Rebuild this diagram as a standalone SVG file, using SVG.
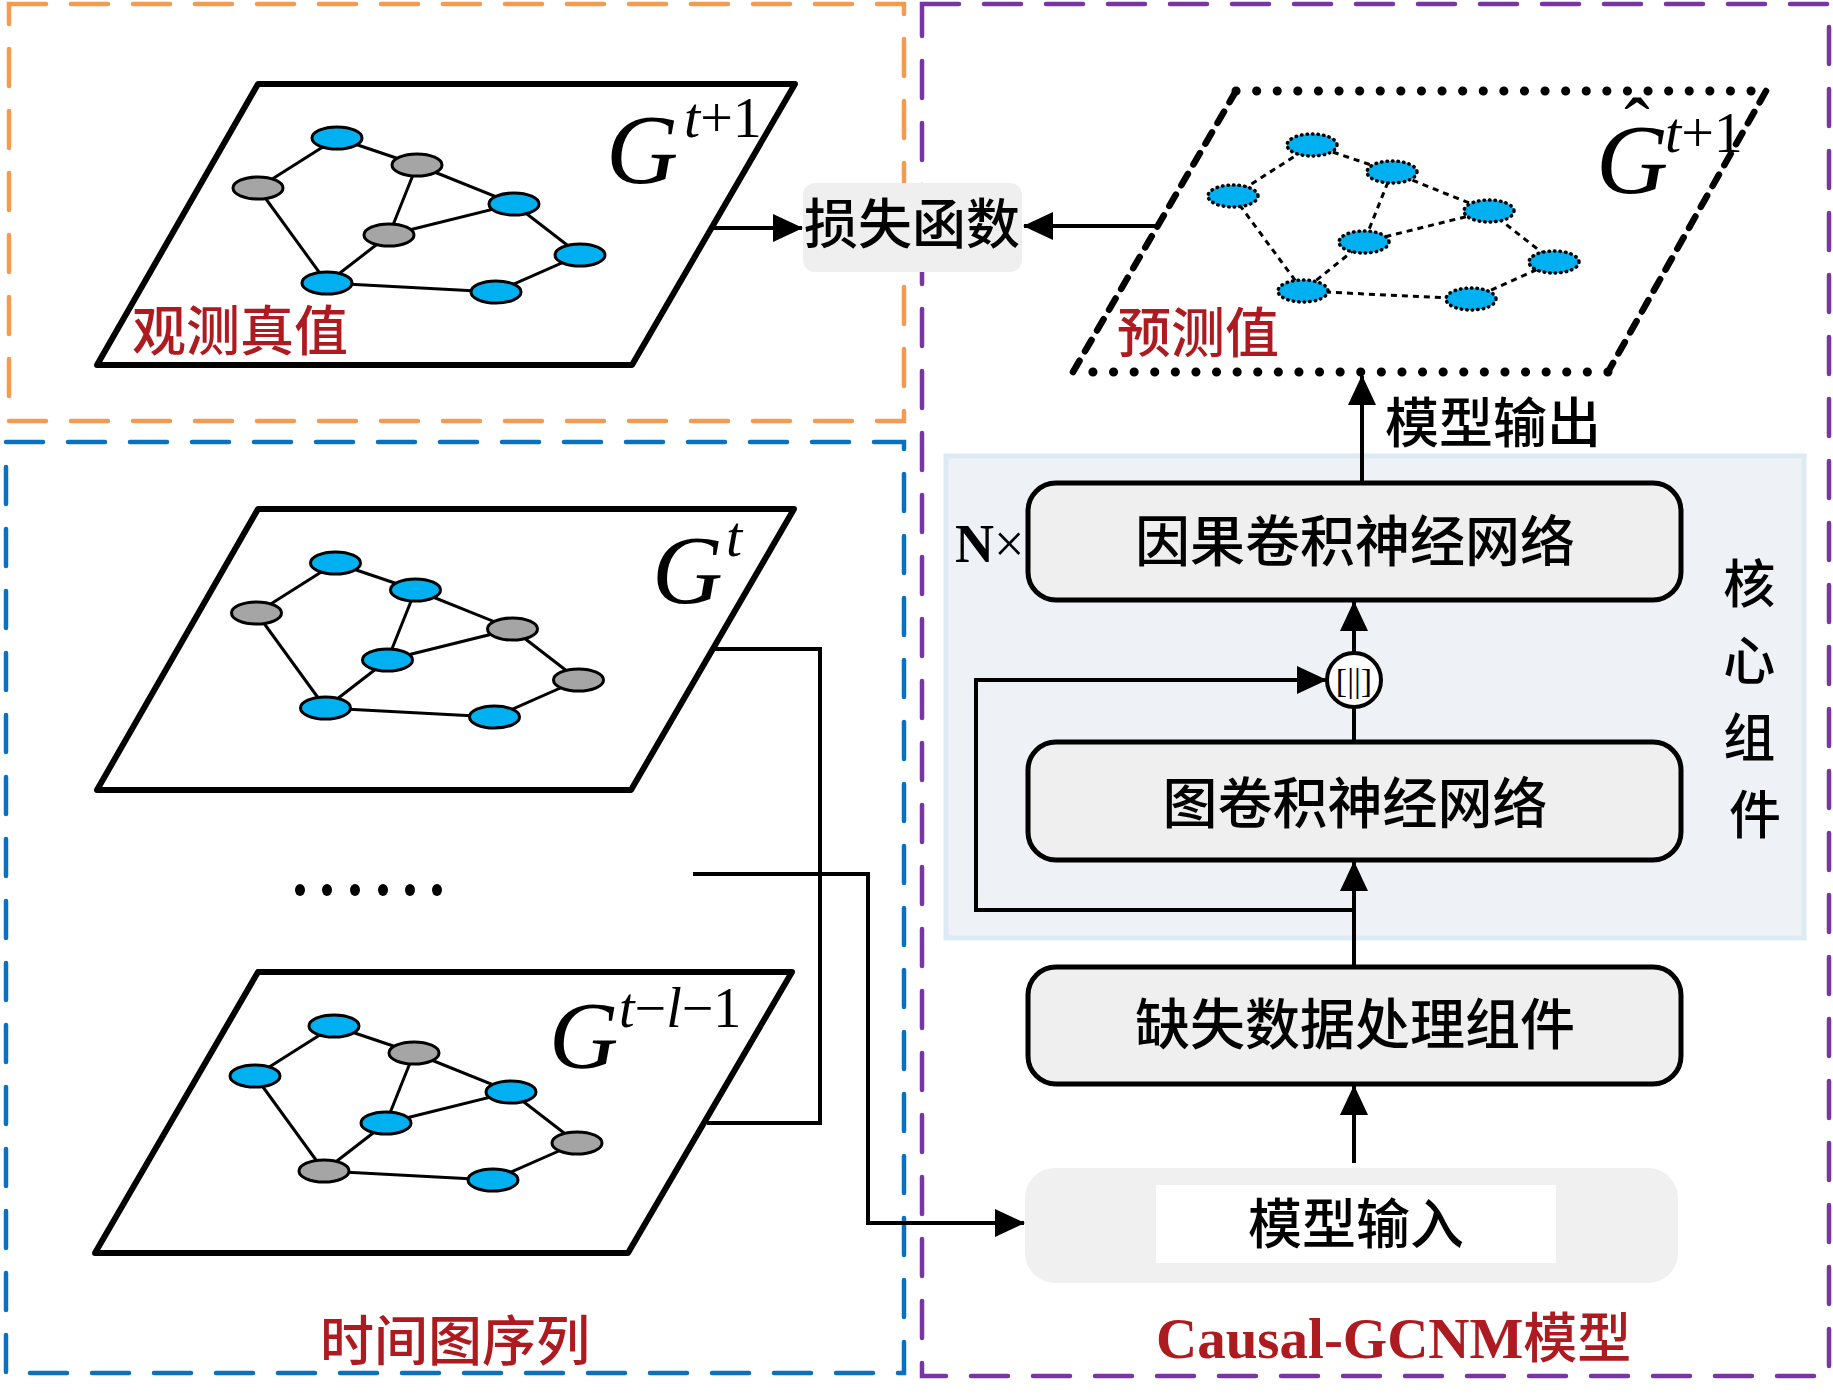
<svg xmlns="http://www.w3.org/2000/svg" width="1833" height="1396" viewBox="0 0 1833 1396">
<style>
.cjk{font-family:"Noto Sans CJK SC","Liberation Sans",sans-serif;font-weight:500;}
.red{fill:#AD1A1F;}
.math{font-family:"Liberation Serif","Times New Roman",serif;font-style:italic;}
.rm{font-family:"Liberation Serif","Times New Roman",serif;font-style:normal;}
.frame{fill:none;stroke-width:4.5;stroke-dasharray:37 25;stroke-linecap:round;}
.plane{fill:#FFFFFF;stroke:#000;stroke-width:6;stroke-linejoin:round;}
.edge{stroke:#000;stroke-width:3;}
.blue{fill:#00B0F0;stroke:#000;stroke-width:3;}
.gray{fill:#A5A5A5;stroke:#000;stroke-width:3;}
.pnode{fill:#00B0F0;stroke:#000;stroke-width:3.5;stroke-dasharray:0.5 5;stroke-linecap:round;}
.pedge{stroke:#000;stroke-width:3;stroke-dasharray:6 5;}
.box{fill:#EFEFEF;stroke:#000;stroke-width:5;}
.conn{fill:none;stroke:#000;stroke-width:4;}
</style>
<defs>
<marker id="ah" viewBox="0 0 30 28" refX="29" refY="14" markerWidth="30" markerHeight="28" orient="auto" markerUnits="userSpaceOnUse">
<path d="M0,0 L30,14 L0,28 z" fill="#000"/>
</marker>
<g id="edges-base">
<line x1="337" y1="138" x2="417" y2="165"/>
<line x1="337" y1="138" x2="258" y2="188"/>
<line x1="417" y1="165" x2="389" y2="235"/>
<line x1="417" y1="165" x2="514" y2="204"/>
<line x1="389" y1="235" x2="514" y2="204"/>
<line x1="514" y1="204" x2="580" y2="255"/>
<line x1="258" y1="188" x2="327" y2="283"/>
<line x1="389" y1="235" x2="327" y2="283"/>
<line x1="327" y1="283" x2="496" y2="292"/>
<line x1="496" y1="292" x2="580" y2="255"/>
</g>
</defs>
<rect width="1833" height="1396" fill="#FFFFFF"/>

<!-- frames -->
<g id="frames">
<rect class="frame" x="9" y="4" width="895" height="417" stroke="#F59B50"/>
<rect class="frame" x="6" y="442" width="898" height="931" stroke="#0A70C0"/>
<rect class="frame" x="922" y="4" width="907" height="1372" stroke="#7A35A5"/>
</g>

<!-- core component background -->
<g id="core">
<rect x="946" y="456" width="858" height="482" fill="#EEF1F6" stroke="#DCEBF3" stroke-width="5"/>
<text class="cjk" font-size="52" fill="#000" text-anchor="middle">
<tspan x="1755" y="603">核</tspan>
<tspan x="1755" y="680">心</tspan>
<tspan x="1755" y="757">组</tspan>
<tspan x="1755" y="834">件</tspan>
</text>
</g>

<!-- graph G^{t+1} -->
<g id="graph-gt1">
<polygon class="plane" points="258,84 795,84 632,365 97,365"/>
<g class="edge"><use href="#edges-base"/></g>
<ellipse class="blue" cx="337" cy="138" rx="25" ry="11"/>
<ellipse class="gray" cx="417" cy="165" rx="25" ry="11"/>
<ellipse class="gray" cx="258" cy="188" rx="25" ry="11"/>
<ellipse class="blue" cx="514" cy="204" rx="25" ry="11"/>
<ellipse class="gray" cx="389" cy="235" rx="25" ry="11"/>
<ellipse class="blue" cx="580" cy="255" rx="25" ry="11"/>
<ellipse class="blue" cx="327" cy="283" rx="25" ry="11"/>
<ellipse class="blue" cx="496" cy="292" rx="25" ry="11"/>
<text class="math" x="606" y="183" font-size="100">G</text>
<text x="684" y="137" font-size="58"><tspan class="math">t</tspan><tspan class="rm">+1</tspan></text>
<text class="cjk red" x="132" y="351" font-size="54">观测真值</text>
</g>

<!-- graph G^t -->
<g id="graph-gt">
<polygon class="plane" points="258,509 794,509 631,790 97,790"/>
<g transform="translate(-1.5,425)">
<g class="edge"><use href="#edges-base"/></g>
<ellipse class="blue" cx="337" cy="138" rx="25" ry="11"/>
<ellipse class="blue" cx="417" cy="165" rx="25" ry="11"/>
<ellipse class="gray" cx="258" cy="188" rx="25" ry="11"/>
<ellipse class="gray" cx="514" cy="204" rx="25" ry="11"/>
<ellipse class="blue" cx="389" cy="235" rx="25" ry="11"/>
<ellipse class="gray" cx="580" cy="255" rx="25" ry="11"/>
<ellipse class="blue" cx="327" cy="283" rx="25" ry="11"/>
<ellipse class="blue" cx="496" cy="292" rx="25" ry="11"/>
</g>
<text class="math" x="652" y="603" font-size="98">G</text>
<text class="math" x="726" y="556" font-size="58">t</text>
</g>

<!-- dots -->
<g id="ellipsis" fill="#000">
<ellipse cx="300" cy="890" rx="5" ry="6"/>
<ellipse cx="327" cy="890" rx="5" ry="6"/>
<ellipse cx="355" cy="890" rx="5" ry="6"/>
<ellipse cx="383" cy="890" rx="5" ry="6"/>
<ellipse cx="410" cy="890" rx="5" ry="6"/>
<ellipse cx="437" cy="890" rx="5" ry="6"/>
</g>

<!-- graph G^{t-l-1} -->
<g id="graph-gtl1">
<polygon class="plane" points="258,972 792,972 628,1253 95,1253"/>
<g transform="translate(-3,888)">
<g class="edge"><use href="#edges-base"/></g>
<ellipse class="blue" cx="337" cy="138" rx="25" ry="11"/>
<ellipse class="gray" cx="417" cy="165" rx="25" ry="11"/>
<ellipse class="blue" cx="258" cy="188" rx="25" ry="11"/>
<ellipse class="blue" cx="514" cy="204" rx="25" ry="11"/>
<ellipse class="blue" cx="389" cy="235" rx="25" ry="11"/>
<ellipse class="gray" cx="580" cy="255" rx="25" ry="11"/>
<ellipse class="gray" cx="327" cy="283" rx="25" ry="11"/>
<ellipse class="blue" cx="496" cy="292" rx="25" ry="11"/>
</g>
<text class="math" x="549" y="1068" font-size="96">G</text>
<text x="619" y="1027" font-size="56"><tspan class="math">t</tspan><tspan class="rm">−</tspan><tspan class="math">l</tspan><tspan class="rm">−1</tspan></text>
</g>

<text id="label-seq" class="cjk red" x="455" y="1361" font-size="54" text-anchor="middle">时间图序列</text>

<!-- predicted graph -->
<g id="graph-pred">
<polygon points="1236,91 1766,91 1608,372 1073,372" fill="#FFFFFF"/>
<path d="M1236,91 L1766,91 M1608,372 L1073,372" fill="none" stroke="#000" stroke-width="9" stroke-dasharray="0.1 20.5" stroke-linecap="round"/>
<path d="M1766,91 L1608,372 M1073,372 L1236,91" fill="none" stroke="#000" stroke-width="6.5" stroke-dasharray="13 11" stroke-linecap="round"/>
<g class="pedge">
<line x1="1312" y1="145" x2="1392" y2="172"/>
<line x1="1312" y1="145" x2="1233" y2="196"/>
<line x1="1392" y1="172" x2="1364" y2="242"/>
<line x1="1392" y1="172" x2="1489" y2="211"/>
<line x1="1364" y1="242" x2="1489" y2="211"/>
<line x1="1489" y1="211" x2="1554" y2="262"/>
<line x1="1233" y1="196" x2="1303" y2="291"/>
<line x1="1364" y1="242" x2="1303" y2="291"/>
<line x1="1303" y1="291" x2="1471" y2="299"/>
<line x1="1471" y1="299" x2="1554" y2="262"/>
</g>
<ellipse class="pnode" cx="1312" cy="145" rx="25" ry="11"/>
<ellipse class="pnode" cx="1392" cy="172" rx="25" ry="11"/>
<ellipse class="pnode" cx="1233" cy="196" rx="25" ry="11"/>
<ellipse class="pnode" cx="1489" cy="211" rx="25" ry="11"/>
<ellipse class="pnode" cx="1364" cy="242" rx="25" ry="11"/>
<ellipse class="pnode" cx="1554" cy="262" rx="25" ry="11"/>
<ellipse class="pnode" cx="1303" cy="291" rx="25" ry="11"/>
<ellipse class="pnode" cx="1471" cy="299" rx="25" ry="11"/>
<text class="math" x="1596" y="193" font-size="100">G</text>
<text class="rm" x="1637" y="151" font-size="76" text-anchor="middle">ˆ</text>
<text x="1665" y="152" font-size="58"><tspan class="math">t</tspan><tspan class="rm">+1</tspan></text>
<text class="cjk red" x="1117" y="353" font-size="54">预测值</text>
</g>

<!-- loss -->
<g id="loss">
<rect x="803" y="183" width="219" height="89" rx="12" fill="#EFEFEF"/>
<text class="cjk" x="912" y="244" font-size="54" text-anchor="middle">损失函数</text>
</g>

<!-- output label -->
<text id="label-output" class="cjk" x="1385" y="443" font-size="54">模型输出</text>

<!-- TCN -->
<g id="tcn">
<rect class="box" x="1028" y="483" width="653" height="117" rx="28"/>
<text class="cjk" x="1355" y="561" font-size="55" text-anchor="middle">因果卷积神经网络</text>
<text x="955" y="562" font-size="54"><tspan class="rm" font-weight="bold">N</tspan><tspan class="rm">×</tspan></text>
</g>

<!-- concat -->
<g id="concat">
<circle cx="1354" cy="680" r="27" fill="#FFFFFF" stroke="#000" stroke-width="4"/>
<text class="rm" x="1354" y="692" font-size="34" text-anchor="middle">[||]</text>
</g>

<!-- GCN -->
<g id="gcn">
<rect class="box" x="1028" y="742" width="653" height="118" rx="28"/>
<text class="cjk" x="1355" y="823" font-size="55" text-anchor="middle">图卷积神经网络</text>
</g>

<!-- missing data -->
<g id="missing">
<rect class="box" x="1028" y="967" width="653" height="117" rx="28"/>
<text class="cjk" x="1355" y="1044" font-size="55" text-anchor="middle">缺失数据处理组件</text>
</g>

<!-- input -->
<g id="input">
<rect x="1025" y="1168" width="653" height="115" rx="30" fill="#F0F0F0"/>
<rect x="1156" y="1185" width="400" height="78" fill="#FFFFFF"/>
<text class="cjk" x="1356" y="1244" font-size="54" text-anchor="middle">模型输入</text>
</g>

<text id="label-model" class="red" x="1156" y="1358"><tspan class="rm" font-weight="bold" font-size="57">Causal-GCNM</tspan><tspan class="cjk" font-size="54">模型</tspan></text>

<!-- connectors -->
<g id="connectors">
<line class="conn" x1="713" y1="228" x2="802" y2="228" marker-end="url(#ah)"/>
<line class="conn" x1="1157" y1="226" x2="1024" y2="226" marker-end="url(#ah)"/>
<line class="conn" x1="1362" y1="483" x2="1362" y2="376" marker-end="url(#ah)"/>
<line class="conn" x1="1354" y1="653" x2="1354" y2="602" marker-end="url(#ah)"/>
<line class="conn" x1="1354" y1="742" x2="1354" y2="707"/>
<line class="conn" x1="1354" y1="967" x2="1354" y2="862" marker-end="url(#ah)"/>
<polyline class="conn" points="1354,910 976,910 976,680 1326,680" marker-end="url(#ah)"/>
<line class="conn" x1="1354" y1="1163" x2="1354" y2="1086" marker-end="url(#ah)"/>
<polyline class="conn" points="713,649 820,649 820,1123 707,1123"/>
<polyline class="conn" points="693,874 868,874 868,1223 1024,1223" marker-end="url(#ah)"/>
</g>
</svg>
